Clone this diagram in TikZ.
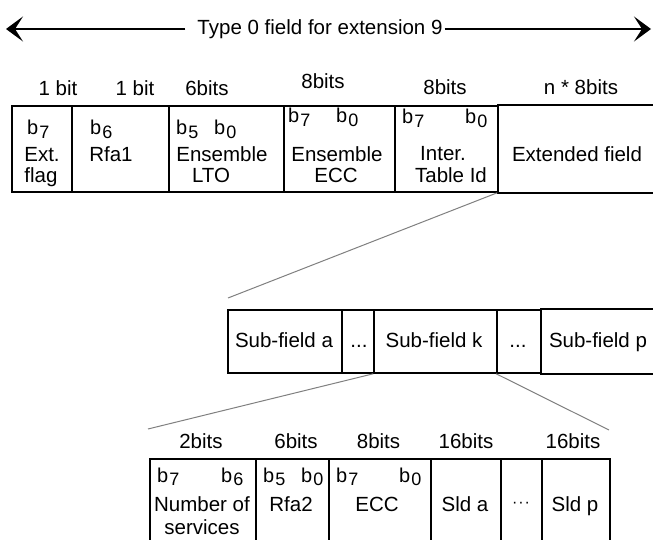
\documentclass[tikz,border=0pt]{standalone}
\usepackage{fontspec}
\setmainfont{Liberation Sans}
\usetikzlibrary{arrows.meta}
\newcommand{\bitlab}[1]{{\fontsize{20}{20}\selectfont b\kern1pt\raisebox{-3.5pt}{\fontsize{18}{18}\selectfont #1}}}
\begin{document}
\begin{tikzpicture}[x=1pt,y=-1pt,
  rule/.style={line width=1.6pt, black},
  topcell/.style={draw, line width=1.6pt, inner sep=0pt, minimum height=86pt},
  subcell/.style={draw, line width=1.6pt, inner sep=0pt, minimum height=63pt},
  botcell/.style={draw, line width=1.6pt, inner sep=0pt, minimum height=101pt},
  txt/.style={inner sep=0pt, anchor=base, font=\fontsize{20.5}{22}\selectfont},
  blab/.style={inner sep=0pt, anchor=base west},
  zoomline/.style={line width=1pt, black!50},
  bigarrow/.style={line width=2pt, -{Stealth[length=17pt, width=25pt, inset=8pt]}}
]
\clip (0,0) rectangle (653,540);
\fill[white] (0,0) rectangle (653,540);

% ---- title arrow ----
\node[inner sep=0pt, font=\fontsize{20.5}{22}\selectfont] (title) at (320,29) {Type 0 field for extension 9};
\coordinate (tipL) at (6,29);
\coordinate (tipR) at (651,29);
\draw[bigarrow] ([xshift=-12pt]title.west) -- (tipL);
\draw[bigarrow] ([xshift=2pt]title.east) -- (tipR);

% ---- top field sizes ----
\node[txt] (w1) at (58,96) {1 bit};
\node[txt] (w2) at (135,96) {1 bit};
\node[txt] (w3) at (207,96) {6bits};
\node[txt] (w4) at (323,89) {8bits};
\node[txt] (w5) at (445,95) {8bits};
\node[txt] (w6) at (581,95) {n * 8bits};

% ---- top table ----
\node[topcell, minimum width=60pt]  (c1) at (42,149) {};
\node[topcell, minimum width=97pt]  (c2) at (120.5,149) {};
\node[topcell, minimum width=115pt] (c3) at (226.5,149) {};
\node[topcell, minimum width=111pt] (c4) at (339.5,149) {};
\node[topcell, minimum width=103pt] (c5) at (446.5,149) {};
\node[topcell, draw=none, minimum width=158pt] (c6) at (577,149) {};
\draw[rule] (c6.north west) -- (c6.north east) (c6.south west) -- (c6.south east);

\node[blab] (c1b7) at (27,135) {\bitlab{7}};
\node[txt] (c1t1) at (42,162) {Ext.};
\node[txt] (c1t2) at (41,183) {flag};

\node[blab] (c2b6) at (90,135) {\bitlab{6}};
\node[txt] (c2t1) at (111,162) {Rfa1};

\node[blab] (c3b5) at (176,135) {\bitlab{5}};
\node[blab] (c3b0) at (214,135) {\bitlab{0}};
\node[txt] (c3t1) at (222,162) {Ensemble};
\node[txt] (c3t2) at (211,183) {LTO};

\node[blab] (c4b7) at (288,123) {\bitlab{7}};
\node[blab] (c4b0) at (336,123) {\bitlab{0}};
\node[txt] (c4t1) at (337,162) {Ensemble};
\node[txt] (c4t2) at (336,183) {ECC};

\node[blab] (c5b7) at (402,124) {\bitlab{7}};
\node[blab] (c5b0) at (465,124) {\bitlab{0}};
\node[txt] (c5t1) at (443,161) {Inter.};
\node[txt] (c5t2) at (451,183) {Table Id};

\node[txt] (c6t1) at (577,162) {Extended field};

% ---- sub-field table ----
\node[subcell, minimum width=114pt] (s1) at (285,341.5) {};
\node[subcell, minimum width=32pt]  (s2) at (358,341.5) {};
\node[subcell, minimum width=123pt] (s3) at (435.5,341.5) {};
\node[subcell, minimum width=44pt]  (s4) at (519,341.5) {};
\node[subcell, draw=none, minimum width=115pt] (s5) at (598.5,341.5) {};
\draw[rule] (s5.north west) -- (s5.north east) (s5.south west) -- (s5.south east);

\node[txt] (s1t) at (284,347) {Sub-field a};
\node[txt] (s2t) at (359,347) {...};
\node[txt] (s3t) at (434,347) {Sub-field k};
\node[txt] (s4t) at (518,347) {...};
\node[txt] (s5t) at (598,347) {Sub-field p};

% ---- zoom lines ----
\coordinate (z0) at (228,298);
\coordinate (z1) at (148,429);
\coordinate (z2) at (609,430);
\draw[zoomline] (c6.south west) -- (z0);
\draw[zoomline] (s3.south west) -- (z1);
\draw[zoomline] (s4.south west) -- (z2);

% ---- bottom field sizes ----
\node[txt] (v1) at (201,448) {2bits};
\node[txt] (v2) at (296,448) {6bits};
\node[txt] (v3) at (378.5,448) {8bits};
\node[txt] (v4) at (466,448) {16bits};
\node[txt] (v5) at (573,448) {16bits};

% ---- bottom table ----
\node[botcell, minimum width=106pt] (b1) at (203,509.5) {};
\node[botcell, minimum width=73pt]  (b2) at (292.5,509.5) {};
\node[botcell, minimum width=102pt] (b3) at (380,509.5) {};
\node[botcell, minimum width=70pt]  (b4) at (466,509.5) {};
\node[botcell, minimum width=41pt]  (b5) at (521.5,509.5) {};
\node[botcell, minimum width=68pt]  (b6) at (576,509.5) {};

\node[blab] (b1b7) at (157,482) {\bitlab{7}};
\node[blab] (b1b6) at (221,482) {\bitlab{6}};
\node[txt] (b1t1) at (202,511) {Number of};
\node[txt] (b1t2) at (202,534) {services};

\node[blab] (b2b5) at (263,482) {\bitlab{5}};
\node[blab] (b2b0) at (301,482) {\bitlab{0}};
\node[txt] (b2t1) at (291,511) {Rfa2};

\node[blab] (b3b7) at (336,482) {\bitlab{7}};
\node[blab] (b3b0) at (399,482) {\bitlab{0}};
\node[txt] (b3t1) at (377,511) {ECC};

\node[txt] (b4t1) at (465,511) {Sld a};
\node[txt] (b5t1) at (521,507) {\fontsize{16}{16}\selectfont ·\kern1pt·\kern1pt·};
\node[txt] (b6t1) at (575,511) {Sld p};
\end{tikzpicture}
\end{document}
